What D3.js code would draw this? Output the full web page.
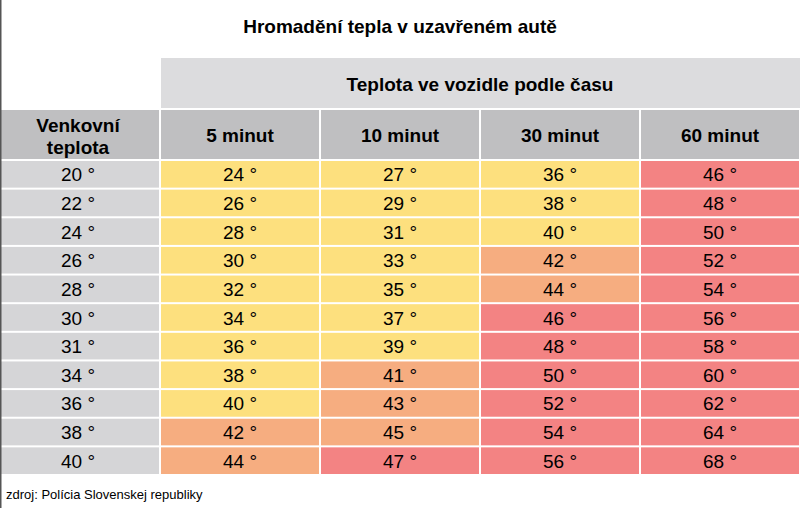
<!DOCTYPE html>
<html><head><meta charset="utf-8">
<script src="https://cdn.jsdelivr.net/npm/d3@7"></script>
<style>body{margin:0;background:#fff}</style></head>
<body><svg id="c" width="800" height="508"></svg>
<script>
const title = "Hromadění tepla v uzavřeném autě";
const groupHeader = "Teplota ve vozidle podle času";
const columns = ["5 minut","10 minut","30 minut","60 minut"];
const outside = [20,22,24,26,28,30,31,34,36,38,40];
const min5  = [24,26,28,30,32,34,36,38,40,42,44];
const min10 = [27,29,31,33,35,37,39,41,43,45,47];
const min30 = [36,38,40,42,44,46,48,50,52,54,56];
const min60 = [46,48,50,52,54,56,58,60,62,64,68];
const source = "zdroj: Polícia Slovenskej republiky";
const series = [min5,min10,min30,min60];

const svg = d3.select("#c");
const font = "Arial, 'Liberation Sans', sans-serif";
const x = d3.scaleBand().domain(d3.range(5)).range([0,800]);
const y = d3.scaleBand().domain(d3.range(outside.length)).range([160,475]);
const color = v => v <= 40 ? "#fde07e" : v <= 45 ? "#f6ad80" : "#f38383";
const g = 1; // half gap

svg.append("rect").attr("x",0).attr("y",0).attr("width",800).attr("height",508).attr("fill","#fff");
svg.append("text").attr("x",400).attr("y",33).attr("text-anchor","middle")
  .attr("font-family",font).attr("font-weight","bold").attr("font-size",19).text(title);
svg.append("rect").attr("x",x(1)+g).attr("y",58).attr("width",800-x(1)-g).attr("height",50).attr("fill","#dcdcde");
svg.append("text").attr("x",(x(1)+800)/2).attr("y",91).attr("text-anchor","middle")
  .attr("font-family",font).attr("font-weight","bold").attr("font-size",19).text(groupHeader);

// header row
const hdr = ["", ...columns];
hdr.forEach((h,i)=>{
  svg.append("rect").attr("x",x(i)+(i?g:0)).attr("y",110).attr("width",x.bandwidth()-(i?2*g:g)).attr("height",49).attr("fill","#bfbfc1");
  if(i) svg.append("text").attr("x",x(i)+x.bandwidth()/2).attr("y",142).attr("text-anchor","middle")
    .attr("font-family",font).attr("font-weight","bold").attr("font-size",19).text(h);
});
svg.append("text").attr("x",x(0)+x.bandwidth()/2-2).attr("y",132).attr("text-anchor","middle")
  .attr("font-family",font).attr("font-weight","bold").attr("font-size",19).text("Venkovní");
svg.append("text").attr("x",x(0)+x.bandwidth()/2-2).attr("y",154).attr("text-anchor","middle")
  .attr("font-family",font).attr("font-weight","bold").attr("font-size",19).text("teplota");

outside.forEach((o,r)=>{
  const cells = [o, ...series.map(s=>s[r])];
  cells.forEach((v,i)=>{
    svg.append("rect").attr("x",x(i)+(i?g:0)).attr("y",y(r)+g).attr("width",x.bandwidth()-(i?2*g:g)).attr("height",y.bandwidth()-2*g)
      .attr("fill", i===0 ? "#d5d5d7" : color(v));
    svg.append("text").attr("x",x(i)+x.bandwidth()/2-(i?0:2)).attr("y",y(r)+y.bandwidth()/2+7).attr("text-anchor","middle")
      .attr("font-family",font).attr("font-size",19).text(v+" °");
  });
});
svg.append("rect").attr("x",0).attr("y",0).attr("width",1.5).attr("height",508).attr("fill","#555");
svg.append("text").attr("x",6).attr("y",499).attr("font-family",font).attr("font-size",13).text(source);
</script></body></html>
